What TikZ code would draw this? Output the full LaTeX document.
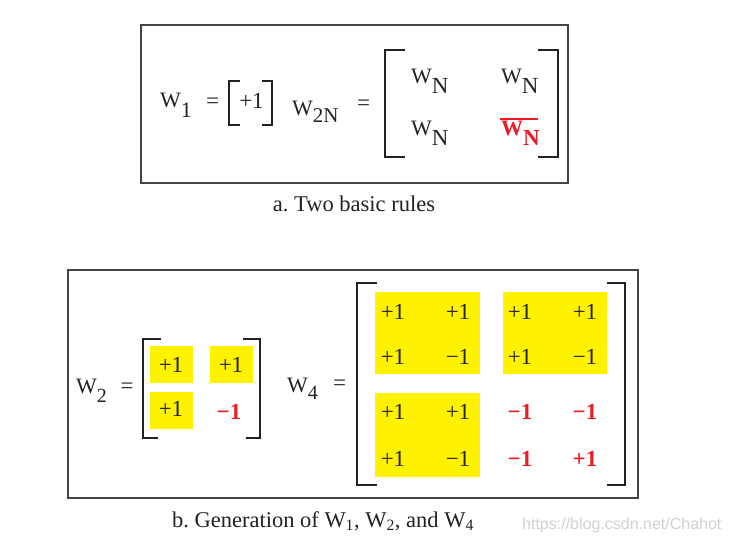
\documentclass[tikz,border=0pt]{standalone}
\usepackage{fontspec}
\setmainfont{Liberation Serif}
\newfontfamily\wmfont{Liberation Sans}
\frenchspacing
\definecolor{hlyellow}{HTML}{FFF200}
\definecolor{hlred}{HTML}{ED1C24}
\definecolor{ink}{HTML}{222222}
\definecolor{framegray}{HTML}{444444}
\newcommand{\fs}[1]{\fontsize{#1pt}{#1pt}\selectfont}
\newcommand{\Wlab}[3]{{\fs{22}W}\raisebox{-#1pt}{\fs{#2}#3}}
\tikzset{
  txt/.style={inner sep=0pt, outer sep=0pt, text=ink, font=\fs{23}},
  neg/.style={txt, text=hlred, font=\fs{23}\bfseries},
  framebox/.style={draw=framegray, line width=1.4pt, inner sep=0pt},
  brk/.style={draw=ink, line width=2.8pt, line cap=butt, line join=miter},
  hl/.style={fill=hlyellow, draw=none},
  captxt/.style={inner sep=0pt, text=ink, font=\fs{22.5}, anchor=base},
}
\begin{document}
\begin{tikzpicture}[x=1pt,y=-1pt]
\useasboundingbox (0,0) rectangle (729,544);
% ---------- part a ----------
\node[framebox, minimum width=427pt, minimum height=158pt] (frameA) at (354.5,104) {};
\node[captxt] (capA) at (354,211) {a. Two basic rules};
\node[txt, anchor=base west] (w1) at (160,107) {\Wlab{10}{22}{1}};
\node[txt] (eqA1) at (212.5,103) {=};
\draw[brk] (240,81) -- (229,81) -- (229,125) -- (240,125);
\draw[brk] (262,81) -- (272,81) -- (272,125) -- (262,125);
\node[txt, anchor=base] (one) at (251.5,108) {+1};
\node[txt, anchor=base west] (w2n) at (292,115) {\Wlab{7}{21}{2N}};
\node[txt] (eqA2) at (363.5,105) {=};
\draw[brk] (405,50) -- (385,50) -- (385,157) -- (405,157);
\draw[brk] (538,50) -- (558,50) -- (558,157) -- (538,157);
\node[txt, anchor=base west] (wa) at (411,83) {\Wlab{10}{23}{N}};
\node[txt, anchor=base west] (wb) at (501,83) {\Wlab{10}{23}{N}};
\node[txt, anchor=base west] (wc) at (411,135) {\Wlab{10}{23}{N}};
\node[txt, anchor=base west, text=hlred, font=\bfseries] (wd) at (501,135) {\Wlab{10}{23}{N}};
\draw[draw=hlred, line width=1.5pt] (500,119) -- (538,119);
% ---------- part b ----------
\node[framebox, minimum width=570pt, minimum height=228pt] (frameB) at (353,384) {};
\node[captxt] (capB) at (323,527) {b. Generation of W\textsubscript{1}, W\textsubscript{2}, and W\textsubscript{4}};
\node[inner sep=0pt, anchor=base west, text=black!18, font=\wmfont\fs{16}] (wm) at (522,529) {https://blog.csdn.net/Chahot};
% W2
\node[txt, anchor=base west] (w2) at (76,393) {\Wlab{9}{20}{2}};
\node[txt] (eqB1) at (127,388) {=};
\draw[brk] (161,339) -- (143,339) -- (143,438) -- (158,438);
\draw[brk] (243,339) -- (260,339) -- (260,438) -- (246,438);
\fill[hl] (150,346) rectangle (193,383);
\fill[hl] (210,346) rectangle (253,383);
\fill[hl] (150,392) rectangle (193,429);
\node[txt] (b11) at (171,365) {+1};
\node[txt] (b12) at (231,365) {+1};
\node[txt] (b21) at (171,409) {+1};
\node[neg] (b22) at (229,412) {−1};
% W4
\node[txt, anchor=base west] (w4) at (287,392) {\Wlab{7}{20}{4}};
\node[txt] (eqB2) at (339.5,385) {=};
\draw[brk] (377,283) -- (357,283) -- (357,485) -- (377,485);
\draw[brk] (607,283) -- (625,283) -- (625,485) -- (607,485);
\fill[hl] (375,292) rectangle (480,374);
\fill[hl] (503,292) rectangle (607,374);
\fill[hl] (375,393) rectangle (480,477);
\node[txt] (c11) at (393,312) {+1};
\node[txt] (c12) at (458,312) {+1};
\node[txt] (c13) at (520,312) {+1};
\node[txt] (c14) at (585,312) {+1};
\node[txt] (c21) at (393,357) {+1};
\node[txt] (c22) at (458,357) {−1};
\node[txt] (c23) at (520,357) {+1};
\node[txt] (c24) at (585,357) {−1};
\node[txt] (c31) at (393,412) {+1};
\node[txt] (c32) at (458,412) {+1};
\node[neg] (c33) at (520,412) {−1};
\node[neg] (c34) at (585,412) {−1};
\node[txt] (c41) at (393,459) {+1};
\node[txt] (c42) at (458,459) {−1};
\node[neg] (c43) at (520,459) {−1};
\node[neg] (c44) at (585,459) {+1};
\end{tikzpicture}
\end{document}
